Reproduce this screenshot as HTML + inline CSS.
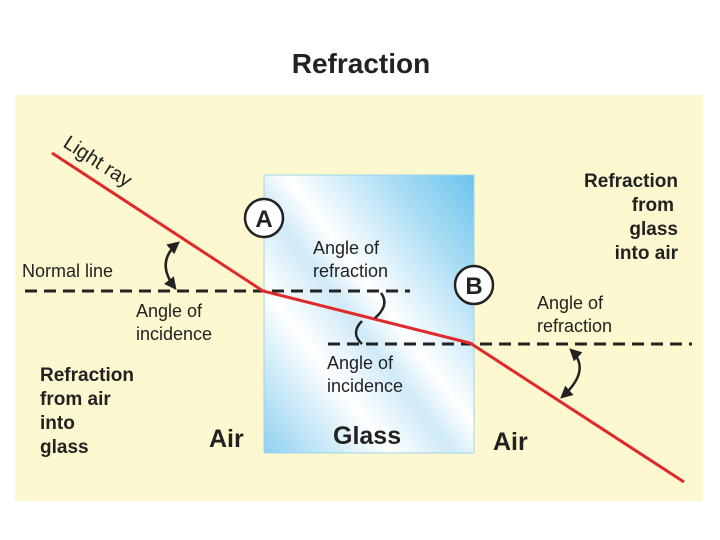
<!DOCTYPE html>
<html><head><style>
body{margin:0;background:#fff;}
svg{display:block;font-family:"Liberation Sans",Arial,sans-serif;}
</style></head><body>
<svg width="720" height="540" viewBox="0 0 720 540">
<defs>
<linearGradient id="g" x1="0" y1="1" x2="1" y2="0">
<stop offset="0" stop-color="#8fd0f0"/>
<stop offset="0.3" stop-color="#ffffff"/>
<stop offset="0.45" stop-color="#cfeaf8"/>
<stop offset="0.55" stop-color="#ffffff"/>
<stop offset="0.8" stop-color="#a8dcf4"/>
<stop offset="1" stop-color="#6cc4ee"/>
</linearGradient>
<marker id="ah" viewBox="0 0 10 10" refX="8" refY="5" markerWidth="5" markerHeight="5" orient="auto-start-reverse"><path d="M0,0 L10,5 L0,10 z" fill="#222"/></marker>
</defs>
<text x="361" y="73" text-anchor="middle" font-size="28" font-weight="bold" fill="#222">Refraction</text>
<rect x="15" y="95" width="688" height="406" fill="#fdf8d0"/>
<rect x="264" y="175" width="210" height="278" fill="url(#g)" stroke="#9fd3ea" stroke-width="1"/>
<g stroke="#222" stroke-width="3" stroke-dasharray="12,7">
<line x1="25" y1="291" x2="410" y2="291"/>
<line x1="328" y1="344" x2="692" y2="344"/>
</g>
<polyline points="52,153 263,291 470,343 684,482" fill="none" stroke="#e02a2a" stroke-width="3"/>
<g fill="none" stroke="#222" stroke-width="2.5">
<path d="M178,243 Q155,262 175,288" marker-start="url(#ah)" marker-end="url(#ah)"/>
<path d="M381,293 Q390,305 375,318"/>
<path d="M362,321 Q350,333 362,344"/>
<path d="M571,350 Q592,370 562,397" marker-start="url(#ah)" marker-end="url(#ah)"/>
</g>
<g font-size="18" fill="#222">
<text transform="translate(62,146) rotate(33)" font-size="20">Light ray</text>
<text x="22" y="277">Normal line</text>
<text x="136" y="317">Angle of</text>
<text x="136" y="340">incidence</text>
<text x="313" y="254">Angle of</text>
<text x="313" y="277">refraction</text>
<text x="327" y="369">Angle of</text>
<text x="327" y="392">incidence</text>
<text x="537" y="309">Angle of</text>
<text x="537" y="332">refraction</text>
</g>
<g font-size="19" font-weight="bold" fill="#222">
<text x="40" y="381">Refraction</text>
<text x="40" y="405">from air</text>
<text x="40" y="429">into</text>
<text x="40" y="453">glass</text>
<text x="678" y="187" text-anchor="end">Refraction</text>
<text x="674" y="211" text-anchor="end">from</text>
<text x="678" y="235" text-anchor="end">glass</text>
<text x="678" y="259" text-anchor="end">into air</text>
</g>
<g font-size="25" font-weight="bold" fill="#222">
<text x="209" y="447">Air</text>
<text x="333" y="444">Glass</text>
<text x="493" y="450">Air</text>
</g>
<circle cx="264" cy="218" r="19" fill="#fff" stroke="#222" stroke-width="2.5"/>
<text x="264" y="227" text-anchor="middle" font-size="24" font-weight="bold" fill="#222">A</text>
<circle cx="474" cy="285" r="19" fill="#fff" stroke="#222" stroke-width="2.5"/>
<text x="474" y="294" text-anchor="middle" font-size="24" font-weight="bold" fill="#222">B</text>
</svg>
</body></html>
